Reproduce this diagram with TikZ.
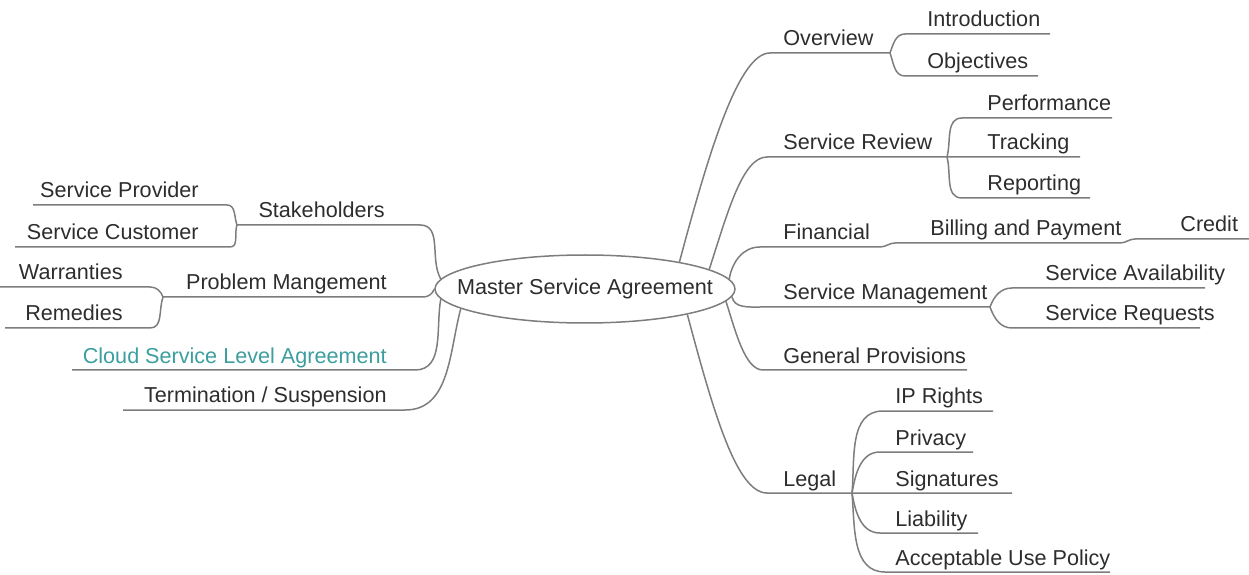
\documentclass[tikz,border=0pt]{standalone}
\usepackage{fontspec}
\setmainfont{Liberation Sans}
\usetikzlibrary{shapes.geometric}

\definecolor{linegray}{RGB}{125,125,125}
\definecolor{textgray}{RGB}{45,45,45}
\definecolor{cloudteal}{RGB}{60,158,158}

\begin{document}
\begin{tikzpicture}[x=0.5pt,y=0.5pt,
   every node/.style={font=\fontsize{10.8pt}{13pt}\selectfont, text=textgray, inner sep=0pt},
   rlabel/.style={anchor=base west},
   llabel/.style={anchor=base east},
   branch/.style={draw=linegray, line width=0.75pt},
   hub/.style={ellipse, draw=linegray, line width=0.75pt, minimum width=150pt, minimum height=34pt}
  ]
  \useasboundingbox (0,0) rectangle (1249,574);

  % centre
  \node [hub] (root) at (585,285) {};
  \node (root-text) at (root.center) {Master Service Agreement};

  % right side: labels
  \node [rlabel] (ovw) at (783,528) {Overview};
  \node [rlabel] (intro) at (927,547) {Introduction};
  \node [rlabel] (obj) at (927,505) {Objectives};
  \node [rlabel] (srev) at (783,424) {Service Review};
  \node [rlabel] (perf) at (987,463) {Performance};
  \node [rlabel] (track) at (987,424) {Tracking};
  \node [rlabel] (rep) at (987,383) {Reporting};
  \node [rlabel] (fin) at (783,334) {Financial};
  \node [rlabel] (bill) at (930,338) {Billing and Payment};
  \node [rlabel] (cred) at (1180,342) {Credit};
  \node [rlabel] (smgmt) at (783,274) {Service Management};
  \node [rlabel] (avail) at (1045,293) {Service Availability};
  \node [rlabel] (req) at (1045,253) {Service Requests};
  \node [rlabel] (genprov) at (783,211) {General Provisions};
  \node [rlabel] (legal) at (783,88) {Legal};
  \node [rlabel] (ipr) at (895,170) {IP Rights};
  \node [rlabel] (priv) at (895,129) {Privacy};
  \node [rlabel] (sig) at (895,88) {Signatures};
  \node [rlabel] (liab) at (895,48) {Liability};
  \node [rlabel] (aup) at (895,9) {Acceptable Use Policy};

  % left side: labels
  \node [llabel] (stake) at (385,356) {Stakeholders};
  \node [llabel] (sprov) at (199,376) {Service Provider};
  \node [llabel] (scust) at (199,334) {Service Customer};
  \node [llabel] (probm) at (387,284) {Problem Mangement};
  \node [llabel] (warr) at (123,294) {Warranties};
  \node [llabel] (rem) at (123,253) {Remedies};
  \node [llabel, text=cloudteal] (csla) at (387,211) {Cloud Service Level Agreement};
  \node [llabel] (term) at (387,171) {Termination / Suspension};

  % underline ends
  \coordinate (ovw-a) at (770,521);   \coordinate (ovw-b) at (890,521);
  \coordinate (intro-a) at (905,540); \coordinate (intro-b) at (1050,540);
  \coordinate (obj-a) at (905,498);   \coordinate (obj-b) at (1038,498);
  \coordinate (srev-a) at (767,417);  \coordinate (srev-b) at (947,417);
  \coordinate (perf-a) at (962,456);  \coordinate (perf-b) at (1112,456);
  \coordinate (track-b) at (1080,417);
  \coordinate (rep-a) at (962,376);   \coordinate (rep-b) at (1090,376);
  \coordinate (fin-a) at (760,327);   \coordinate (fin-b) at (880,327);
  \coordinate (bill-a) at (895,331);  \coordinate (bill-b) at (1120,331);
  \coordinate (cred-a) at (1135,335); \coordinate (cred-b) at (1249,335);
  \coordinate (smgmt-a) at (760,267); \coordinate (smgmt-b) at (990,267);
  \coordinate (avail-a) at (1012,286); \coordinate (avail-b) at (1205,286);
  \coordinate (req-a) at (1012,246);  \coordinate (req-b) at (1200,246);
  \coordinate (genprov-a) at (763,204); \coordinate (genprov-b) at (967,204);
  \coordinate (legal-a) at (767,81);  \coordinate (legal-b) at (852,81);
  \coordinate (ipr-a) at (883,163);   \coordinate (ipr-b) at (993,163);
  \coordinate (priv-a) at (880,122);  \coordinate (priv-b) at (973,122);
  \coordinate (sig-b) at (1012,81);
  \coordinate (liab-a) at (880,41);   \coordinate (liab-b) at (978,41);
  \coordinate (aup-a) at (885,2);     \coordinate (aup-b) at (1110,2);

  \coordinate (stake-a) at (237,349); \coordinate (stake-b) at (420,349);
  \coordinate (sprov-a) at (33,369);  \coordinate (sprov-b) at (227,369);
  \coordinate (scust-a) at (15,327);  \coordinate (scust-b) at (230,327);
  \coordinate (probm-a) at (163,277); \coordinate (probm-b) at (423,277);
  \coordinate (warr-a) at (0,287);    \coordinate (warr-b) at (150,287);
  \coordinate (rem-a) at (5,246);     \coordinate (rem-b) at (150,246);
  \coordinate (csla-a) at (72,204);   \coordinate (csla-b) at (415,204);
  \coordinate (term-a) at (123,164);  \coordinate (term-b) at (405,164);

  % right branches
  \draw [branch] (root.16) to[out=75,in=180,out looseness=1.3,in looseness=0.35] (ovw-a) -- (ovw-b);
  \draw [branch] (ovw-b) to[out=70,in=180] (intro-a) -- (intro-b);
  \draw [branch] (ovw-b) to[out=-70,in=180] (obj-a) -- (obj-b);
  \draw [branch] (root.9) to[out=72,in=180,out looseness=1.2,in looseness=0.5] (srev-a) -- (srev-b) -- (track-b);
  \draw [branch] (srev-b) to[out=75,in=180] (perf-a) -- (perf-b);
  \draw [branch] (srev-b) to[out=-75,in=180] (rep-a) -- (rep-b);
  \draw [branch] (root.4) to[out=80,in=180] (fin-a) -- (fin-b)
     to[out=0,in=180] (bill-a) -- (bill-b)
     to[out=0,in=180] (cred-a) -- (cred-b);
  \draw [branch] (root.-3) to[out=-80,in=180] (smgmt-a) -- (smgmt-b);
  \draw [branch] (smgmt-b) to[out=70,in=180] (avail-a) -- (avail-b);
  \draw [branch] (smgmt-b) to[out=-70,in=180] (req-a) -- (req-b);
  \draw [branch] (root.-5) to[out=-72,in=180,in looseness=0.6] (genprov-a) -- (genprov-b);
  \draw [branch] (root.-14) to[out=-75,in=180,out looseness=1.3,in looseness=0.4] (legal-a) -- (legal-b) -- (sig-b);
  \draw [branch] (legal-b) to[out=85,in=180] (ipr-a) -- (ipr-b);
  \draw [branch] (legal-b) to[out=80,in=180] (priv-a) -- (priv-b);
  \draw [branch] (legal-b) to[out=-80,in=180] (liab-a) -- (liab-b);
  \draw [branch] (legal-b) to[out=-85,in=180] (aup-a) -- (aup-b);

  % left branches
  \draw [branch] (root.176) to[out=120,in=0] (stake-b) -- (stake-a);
  \draw [branch] (sprov-a) -- (sprov-b) to[out=0,in=110] (stake-a);
  \draw [branch] (scust-a) -- (scust-b) to[out=0,in=250] (stake-a);
  \draw [branch] (root.180) to[out=250,in=0] (probm-b) -- (probm-a);
  \draw [branch] (warr-a) -- (warr-b) to[out=0,in=110] (probm-a);
  \draw [branch] (rem-a) -- (rem-b) to[out=0,in=250] (probm-a);
  \draw [branch] (root.184) to[out=260,in=0] (csla-b) -- (csla-a);
  \draw [branch] (root.189) to[out=255,in=0] (term-b) -- (term-a);
\end{tikzpicture}
\end{document}
